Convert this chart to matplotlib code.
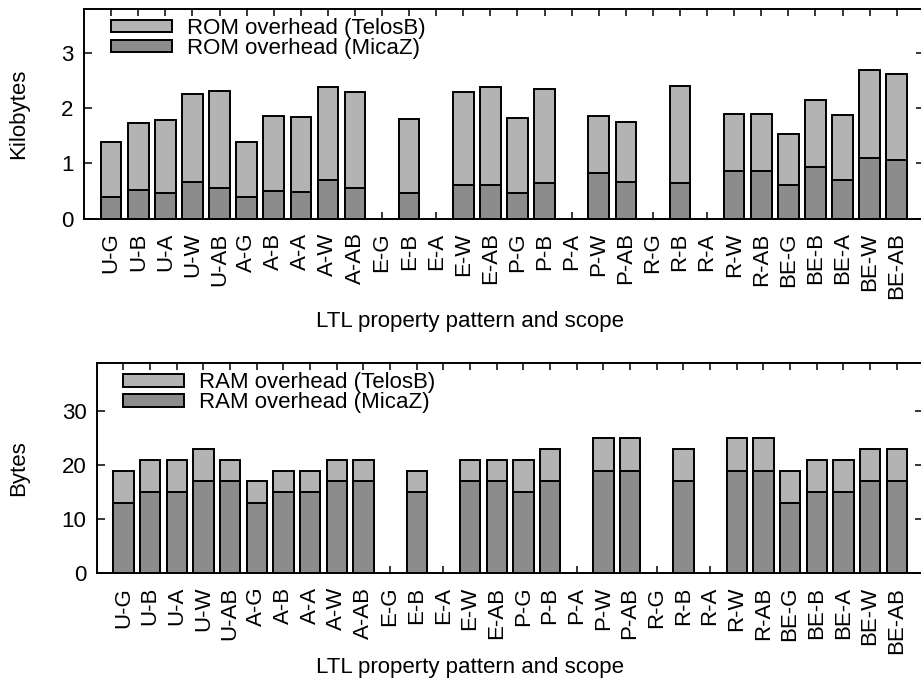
import matplotlib
matplotlib.use("Agg")
import matplotlib.pyplot as plt
import numpy as np

plt.rcParams['font.family'] = ['Liberation Sans', 'DejaVu Sans']

categories = ["U-G", "U-B", "U-A", "U-W", "U-AB", "A-G", "A-B", "A-A", "A-W", "A-AB",
              "E-G", "E-B", "E-A", "E-W", "E-AB", "P-G", "P-B", "P-A", "P-W", "P-AB",
              "R-G", "R-B", "R-A", "R-W", "R-AB", "BE-G", "BE-B", "BE-A", "BE-W", "BE-AB"]

# ROM overhead in kilobytes (NaN = no bar)
rom_telosb = [1.39, 1.73, 1.79, 2.26, 2.30, 1.38, 1.85, 1.83, 2.39, 2.29,
              np.nan, 1.81, np.nan, 2.29, 2.38, 1.82, 2.35, np.nan, 1.86, 1.74,
              np.nan, 2.40, np.nan, 1.90, 1.90, 1.53, 2.15, 1.88, 2.68, 2.62]
rom_micaz = [0.39, 0.52, 0.47, 0.67, 0.56, 0.39, 0.50, 0.48, 0.69, 0.56,
             np.nan, 0.47, np.nan, 0.61, 0.61, 0.47, 0.65, np.nan, 0.82, 0.66,
             np.nan, 0.65, np.nan, 0.87, 0.87, 0.60, 0.94, 0.70, 1.10, 1.06]

# RAM overhead in bytes
ram_telosb = [19, 21, 21, 23, 21, 17, 19, 19, 21, 21,
              np.nan, 19, np.nan, 21, 21, 21, 23, np.nan, 25, 25,
              np.nan, 23, np.nan, 25, 25, 19, 21, 21, 23, 23]
ram_micaz = [13, 15, 15, 17, 17, 13, 15, 15, 17, 17,
             np.nan, 15, np.nan, 17, 17, 15, 17, np.nan, 19, 19,
             np.nan, 17, np.nan, 19, 19, 13, 15, 15, 17, 17]

LIGHT = "#b3b3b3"
DARK = "#8c8c8c"
FS = 16

W, H = 921, 683
fig = plt.figure(figsize=(W / 100, H / 100), dpi=100)

def px_axes(left, right, top, bottom):
    return fig.add_axes([left / W, 1 - bottom / H, (right - left) / W, (bottom - top) / H])

ax1 = px_axes(84.1, 923.8, 8.6, 218.6)
ax2 = px_axes(96.8, 923.4, 363.0, 573.0)

x = np.arange(len(categories))

def draw(ax, telos, mica, ymax, yticks, ylabel, lab_t, lab_m, ylab_x):
    ax.set_axisbelow(True)
    ax.bar(x, telos, width=0.76, color=LIGHT, edgecolor="black", linewidth=1.4, label=lab_t)
    ax.bar(x, mica, width=0.76, color=DARK, edgecolor="black", linewidth=1.4, label=lab_m)
    ax.set_xlim(-1, 30)
    ax.set_ylim(0, ymax)
    ax.set_xticks(x)
    ax.set_xticklabels(categories, rotation=90, ha="center", va="top", fontsize=FS)
    ax.set_yticks(yticks)
    ax.set_yticklabels([str(t) for t in yticks], fontsize=FS)
    ax.tick_params(axis="x", direction="in", top=True, length=5, width=1.1, pad=10)
    ax.tick_params(axis="y", direction="in", right=True, length=6, width=1.1, pad=7.5)
    for s in ax.spines.values():
        s.set_linewidth(1.4)
    ax.set_ylabel(ylabel, fontsize=FS, va="center")
    ax.yaxis.set_label_coords(ylab_x, 0.5)
    ax.set_xlabel("LTL property pattern and scope", fontsize=FS, va="center")
    ax.legend(loc="upper left", bbox_to_anchor=(0.032, 0.955), frameon=False,
              fontsize=FS, handlelength=2.75, handleheight=0.5, handletextpad=0.65,
              labelspacing=-0.05, borderpad=0, borderaxespad=0)

draw(ax1, rom_telosb, rom_micaz, 3.8, [0, 1, 2, 3], "Kilobytes",
     "ROM overhead (TelosB)", "ROM overhead (MicaZ)", (19 - 84.1) / 839.7)
draw(ax2, ram_telosb, ram_micaz, 39, [0, 10, 20, 30], "Bytes",
     "RAM overhead (TelosB)", "RAM overhead (MicaZ)", (19 - 96.8) / 826.6)

ax1.xaxis.set_label_coords(0.5 - (0.5 * 839.7 + 84.1 - 470) / 839.7, (218.6 - 321) / 210)
ax2.xaxis.set_label_coords(0.5 - (0.5 * 826.6 + 96.8 - 470) / 826.6, (573 - 668) / 210)

fig.savefig("out.png", dpi=100)
